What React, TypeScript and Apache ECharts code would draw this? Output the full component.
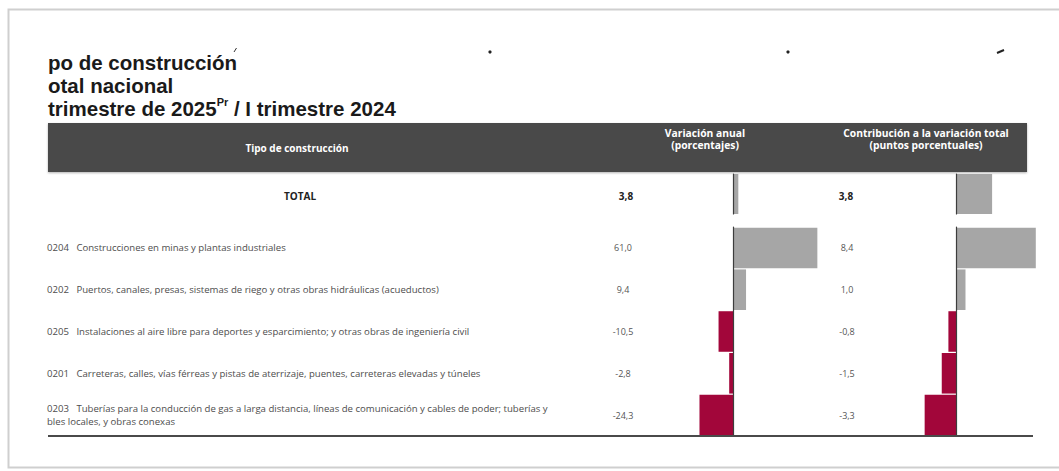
import React, { useEffect, useRef } from "react";
import * as echarts from "echarts";

const titleLines = ["po de construcción", "otal nacional"];
const titleLine3 = ["trimestre de 2025", "Pr", " / I trimestre 2024"];
const headerTipo = "Tipo de construcción";
const headerVar = ["Variación anual", "(porcentajes)"];
const headerContrib = ["Contribución a la variación total", "(puntos porcentuales)"];

const totalLabel = "TOTAL";
const totalVariacion = 3.8;
const totalContribucion = 3.8;

const codes = ["0204", "0202", "0205", "0201", "0203"];
const categories = [
  "Construcciones en minas y plantas industriales",
  "Puertos, canales, presas, sistemas de riego y otras obras hidráulicas (acueductos)",
  "Instalaciones al aire libre para deportes y esparcimiento; y otras obras de ingeniería civil",
  "Carreteras, calles, vías férreas y pistas de aterrizaje, puentes, carreteras elevadas y túneles",
  "Tuberías para la conducción de gas a larga distancia, líneas de comunicación y cables de poder; tuberías y\nbles locales, y obras conexas",
];
const variacion = [61.0, 9.4, -10.5, -2.8, -24.3];
const contribucion = [8.4, 1.0, -0.8, -1.5, -3.3];

const GRAY = "#a6a6a6";
const RED = "#a2063a";
const FONT = "'Open Sans', sans-serif";

const fmt = (v: number) => v.toFixed(1).replace(".", ",");

export default function App() {
  const ref = useRef<HTMLDivElement>(null);
  useEffect(() => {
    document.body.style.margin = "0";
    if (!ref.current) return;
    const chart = echarts.init(ref.current, undefined, { renderer: "svg" });

    const detailTop = 227;
    const detailH = 209;
    const rowH = detailH / categories.length;
    const totalTop = 174;
    const totalH = 40;

    const varAxis = { min: -30, max: 70 };
    const conAxis = { min: -5, max: 10 };
    const varGrid = { left: 691.6, width: 138.2 };
    const conGrid = { left: 908.5, width: 142.5 };

    const graphic: any[] = [];
    graphic.push({
      type: "rect",
      shape: { x: 8.5, y: 9.5, width: 1100, height: 458 },
      style: { fill: "#fff", stroke: "#cfcfcf", lineWidth: 2 },
      z: -10,
    });
    graphic.push({ type: "line", shape: { x1: 234, y1: 52, x2: 236.5, y2: 48 }, style: { stroke: "#333", lineWidth: 1 } });
    graphic.push({ type: "circle", shape: { cx: 490, cy: 52, r: 1.6 }, style: { fill: "#222" } });
    graphic.push({ type: "circle", shape: { cx: 788, cy: 52, r: 1.6 }, style: { fill: "#222" } });
    graphic.push({ type: "line", shape: { x1: 997, y1: 53, x2: 1004, y2: 50 }, style: { stroke: "#222", lineWidth: 2 } });

    const TITLE_FONT = `bold 20.5px 'Liberation Sans', Arial, sans-serif`;
    const titleText = [
      ...titleLines.map((t) => `{a|${t}}`),
      `{a|${titleLine3[0]}}{s|${titleLine3[1]}}{a|${titleLine3[2]}}`,
    ].join("\n");
    graphic.push({
      type: "text",
      x: 48,
      y: 50.5,
      style: {
        text: titleText,
        verticalAlign: "top",
        rich: {
          a: { font: TITLE_FONT, fill: "#1a1a1a", lineHeight: 23 },
          s: { font: `bold 11px 'Liberation Sans', Arial, sans-serif`, fill: "#1a1a1a", verticalAlign: "top", lineHeight: 23 },
        },
      },
    });

    graphic.push({
      type: "rect",
      shape: { x: 48, y: 123, width: 979, height: 49 },
      style: { fill: "#4a4a4a", shadowBlur: 2, shadowColor: "rgba(0,0,0,0.3)", shadowOffsetY: 1 },
    });
    const HEAD_FONT = `bold 10.3px ${FONT}`;
    graphic.push({
      type: "text",
      x: 297,
      y: 148,
      style: { text: headerTipo, font: `bold 10px ${FONT}`, fill: "#fff", align: "center", verticalAlign: "middle" },
    });
    headerVar.forEach((t, i) =>
      graphic.push({
        type: "text",
        x: 705,
        y: 133 + i * 12,
        style: { text: t, font: HEAD_FONT, fill: "#fff", align: "center", verticalAlign: "middle" },
      })
    );
    headerContrib.forEach((t, i) =>
      graphic.push({
        type: "text",
        x: 926,
        y: 133 + i * 12,
        style: { text: t, font: HEAD_FONT, fill: "#fff", align: "center", verticalAlign: "middle" },
      })
    );

    const totalY = totalTop + totalH / 2 + 2;
    graphic.push({
      type: "text",
      x: 300,
      y: totalY,
      style: { text: totalLabel, font: `bold 10px ${FONT}`, fill: "#222", align: "center", verticalAlign: "middle" },
    });
    graphic.push({
      type: "text",
      x: 626,
      y: totalY,
      style: { text: fmt(totalVariacion), font: `bold 10px ${FONT}`, fill: "#222", align: "center", verticalAlign: "middle" },
    });
    graphic.push({
      type: "text",
      x: 846,
      y: totalY,
      style: { text: fmt(totalContribucion), font: `bold 10px ${FONT}`, fill: "#222", align: "center", verticalAlign: "middle" },
    });

    const ROW_FONT = `9.6px ${FONT}`;
    categories.forEach((c, i) => {
      const cy = detailTop + (i + 0.5) * rowH;
      const lines = c.split("\n");
      graphic.push({
        type: "text",
        x: 47,
        y: cy,
        style: {
          text: lines.map((l, k) => (k === 0 ? `${codes[i]}   ${l}` : l)).join("\n"),
          font: ROW_FONT,
          fill: "#4d4d4d",
          align: "left",
          verticalAlign: "middle",
          lineHeight: 13,
        },
      });
      graphic.push({
        type: "text",
        x: 623,
        y: cy,
        style: { text: fmt(variacion[i]), font: `9px ${FONT}`, fill: "#555", align: "center", verticalAlign: "middle" },
      });
      graphic.push({
        type: "text",
        x: 847,
        y: cy,
        style: { text: fmt(contribucion[i]), font: `9px ${FONT}`, fill: "#555", align: "center", verticalAlign: "middle" },
      });
    });

    graphic.push({
      type: "line",
      shape: { x1: 48, y1: 436, x2: 1033, y2: 436 },
      style: { stroke: "#4a4a4a", lineWidth: 2 },
      z: 10,
    });

    const grids = [
      { left: varGrid.left, width: varGrid.width, top: totalTop, height: totalH },
      { left: varGrid.left, width: varGrid.width, top: detailTop, height: detailH },
      { left: conGrid.left, width: conGrid.width, top: totalTop, height: totalH },
      { left: conGrid.left, width: conGrid.width, top: detailTop, height: detailH },
    ];
    const xAxes = grids.map((_, gi) => ({
      type: "value",
      gridIndex: gi,
      min: gi < 2 ? varAxis.min : conAxis.min,
      max: gi < 2 ? varAxis.max : conAxis.max,
      show: false,
    }));
    const yAxes = grids.map((_, gi) => ({
      type: "category",
      gridIndex: gi,
      inverse: true,
      data: gi % 2 === 0 ? [totalLabel] : categories,
      z: 5,
      axisLine: { show: true, onZero: true, lineStyle: { color: "#3d3d3d", width: 1.2 } },
      axisTick: { show: false },
      axisLabel: { show: false },
      splitLine: { show: false },
    }));
    const colorFor = (v: number) => (v < 0 ? RED : GRAY);
    const mk = (vals: number[]) => vals.map((v) => ({ value: v, itemStyle: { color: colorFor(v) } }));
    const series = [
      { type: "bar", xAxisIndex: 0, yAxisIndex: 0, data: mk([totalVariacion]), barCategoryGap: "0%" },
      { type: "bar", xAxisIndex: 1, yAxisIndex: 1, data: mk(variacion), barCategoryGap: "3%" },
      { type: "bar", xAxisIndex: 2, yAxisIndex: 2, data: mk([totalContribucion]), barCategoryGap: "0%" },
      { type: "bar", xAxisIndex: 3, yAxisIndex: 3, data: mk(contribucion), barCategoryGap: "3%" },
    ].map((s) => ({ ...s, silent: true, label: { show: false } }));

    chart.setOption({
      animation: false,
      backgroundColor: "#fff",
      grid: grids,
      xAxis: xAxes,
      yAxis: yAxes,
      series,
      graphic: { elements: graphic },
    } as any);

    return () => chart.dispose();
  }, []);
  return <div ref={ref} style={{ width: 1059, height: 471 }} />;
}
